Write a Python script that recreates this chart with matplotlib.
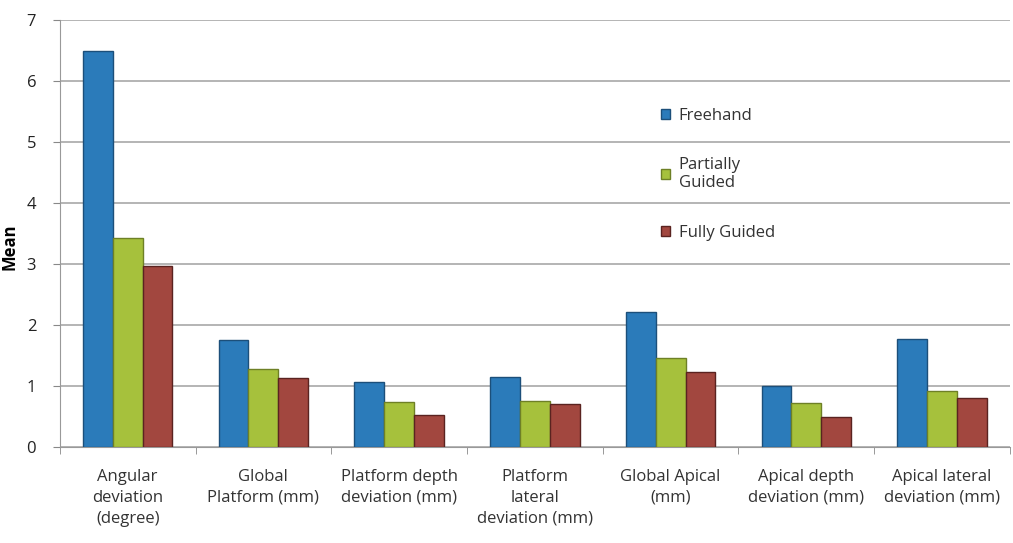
import matplotlib
matplotlib.use("Agg")
import matplotlib.pyplot as plt
import numpy as np

categories = ["Angular\ndeviation\n(degree)", "Global\nPlatform (mm)", "Platform depth\ndeviation (mm)",
              "Platform\nlateral\ndeviation (mm)", "Global Apical\n(mm)", "Apical depth\ndeviation (mm)",
              "Apical lateral\ndeviation (mm)"]
series_names = ["Freehand", "Partially\nGuided", "Fully Guided"]
freehand = [6.5, 1.75, 1.06, 1.15, 2.22, 1.0, 1.77]
partially = [3.42, 1.28, 0.73, 0.76, 1.45, 0.72, 0.92]
fully = [2.96, 1.13, 0.52, 0.70, 1.23, 0.49, 0.81]
yticks = [0, 1, 2, 3, 4, 5, 6, 7]

colors = ["#2B7BBA", "#A6C13C", "#A2473F"]
edges = ["#1C4F7A", "#6E8026", "#5A2320"]

plt.rcParams['font.family'] = ['Open Sans', 'DejaVu Sans']
fig = plt.figure(figsize=(10.13, 5.43), dpi=100)
ax = fig.add_axes([0.059, 0.177, 0.938, 0.786])

x = np.arange(len(categories))
w = 0.22
for i, (vals, name) in enumerate(zip([freehand, partially, fully], series_names)):
    ax.bar(x + (i - 1) * w, vals, width=w, color=colors[i], edgecolor=edges[i],
           linewidth=1.0, label=name, zorder=3)

ax.set_xlim(-0.5, len(categories) - 0.5)
ax.set_ylim(0, 7)
ax.set_yticks(yticks)
ax.set_yticklabels([str(t) for t in yticks], fontsize=12, color="#222222")
ax.grid(axis="y", color="#A8A8A8", linewidth=1.2, zorder=0)
ax.set_xticks(x)
ax.set_xticklabels(categories, fontsize=12, color="#333333", linespacing=1.4)
ax.tick_params(axis="x", length=0, pad=16)
ax.set_xticks(np.arange(-0.5, len(categories), 1.0), minor=True)
ax.tick_params(axis="x", which="minor", length=5, color="#888888")
ax.tick_params(axis="y", length=5, color="#888888", pad=12)
for s in ["top", "right"]:
    ax.spines[s].set_visible(False)
ax.spines["left"].set_color("#999999")
ax.spines["bottom"].set_color("#999999")
ax.set_ylabel("Mean", fontsize=12, fontweight="bold", labelpad=2)
ax.yaxis.set_label_coords(-0.043, 0.47)

leg = ax.legend(loc="upper left", bbox_to_anchor=(0.617, 0.83), frameon=False, fontsize=12,
                handlelength=0.55, handleheight=0.55, handletextpad=0.5, labelspacing=2.0)
for t in leg.get_texts():
    t.set_color("#333333")

fig.savefig("out.png", dpi=100)
